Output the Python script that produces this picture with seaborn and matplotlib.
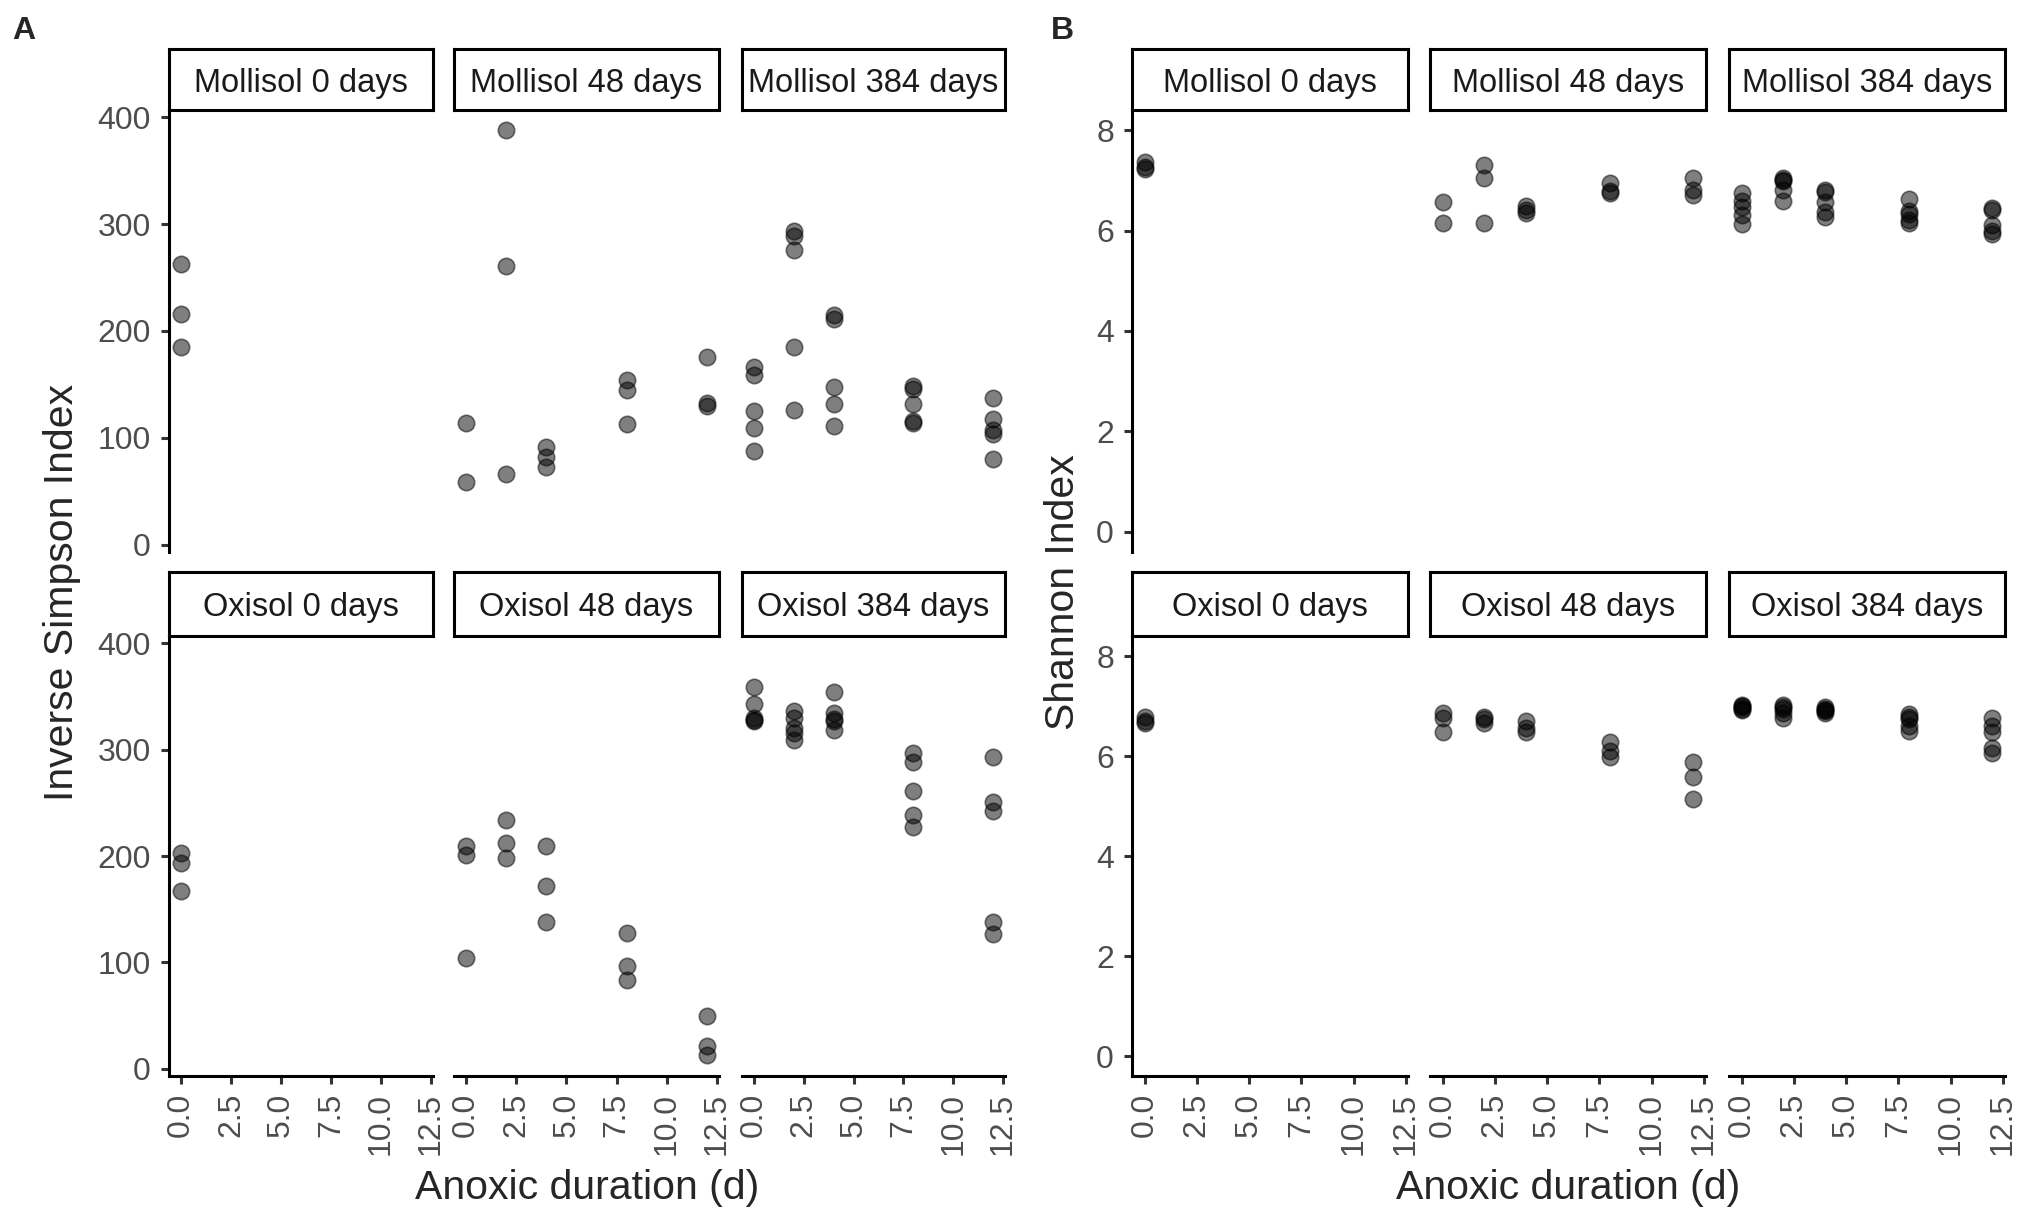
import numpy as np
import pandas as pd
import matplotlib
matplotlib.use('Agg')
import matplotlib.pyplot as plt
import seaborn as sns

sns.set_style('white')
plt.rcParams['font.family'] = ['Liberation Sans', 'DejaVu Sans']

# %% data

facets = ["Mollisol 0 days", "Mollisol 48 days", "Mollisol 384 days",
          "Oxisol 0 days", "Oxisol 48 days", "Oxisol 384 days"]
days = [0, 2, 4, 8, 12]
x_ticks = [0, 2.5, 5, 7.5, 10, 12.5]
x_ticklabels = ["0.0", "2.5", "5.0", "7.5", "10.0", "12.5"]

# Inverse Simpson, one list per anoxic duration (0, 2, 4, 8, 12 d)
inv_mol0 = [[263, 216, 185]]
inv_mol48 = [[114, 59], [388, 261, 66], [91, 82, 73], [154, 145, 113], [176, 133, 130]]
inv_mol384 = [[166, 159, 125, 109, 88], [294, 289, 276, 185, 126],
              [215, 211, 148, 132, 111], [149, 146, 132, 116, 114],
              [137, 118, 107, 104, 80]]
inv_oxi0 = [[203, 193, 167]]
inv_oxi48 = [[209, 201, 104], [234, 212, 198], [209, 172, 138], [128, 97, 83], [50, 21, 13]]
inv_oxi384 = [[359, 343, 330, 328, 327], [336, 330, 320, 316, 309],
              [354, 334, 329, 327, 318], [297, 288, 261, 239, 227],
              [293, 251, 242, 138, 127]]

# Shannon
sha_mol0 = [[7.37, 7.27, 7.22]]
sha_mol48 = [[6.57, 6.16], [7.30, 7.05, 6.16], [6.48, 6.41, 6.35],
             [6.94, 6.78, 6.74], [7.04, 6.81, 6.70]]
sha_mol384 = [[6.74, 6.59, 6.47, 6.30, 6.13], [7.04, 7.01, 6.99, 6.81, 6.59],
              [6.81, 6.76, 6.56, 6.36, 6.27], [6.63, 6.39, 6.33, 6.20, 6.15],
              [6.44, 6.41, 6.11, 6.00, 5.93]]
sha_oxi0 = [[6.78, 6.71, 6.66]]
sha_oxi48 = [[6.86, 6.76, 6.49], [6.78, 6.74, 6.67], [6.70, 6.57, 6.49],
             [6.28, 6.11, 5.99], [5.89, 5.58, 5.15]]
sha_oxi384 = [[7.03, 7.00, 6.98, 6.95, 6.92], [7.03, 6.99, 6.95, 6.86, 6.76],
              [6.99, 6.95, 6.92, 6.90, 6.86], [6.84, 6.78, 6.74, 6.61, 6.51],
              [6.76, 6.61, 6.49, 6.16, 6.06]]

inv_sets = [inv_mol0, inv_mol48, inv_mol384, inv_oxi0, inv_oxi48, inv_oxi384]
sha_sets = [sha_mol0, sha_mol48, sha_mol384, sha_oxi0, sha_oxi48, sha_oxi384]


def to_long(sets):
    rows = []
    for f, groups in zip(facets, sets):
        for d, vals in zip(days, groups):
            for v in vals:
                rows.append({'facet': f, 'day': d, 'value': v})
    return pd.DataFrame(rows)


df_inv = to_long(inv_sets)
df_sha = to_long(sha_sets)

# %% layout (pixels)
W, H = 2033, 1212
fig = plt.figure(figsize=(W / 100, H / 100), dpi=100)


def box(l, t, r, b):
    return [l / W, 1 - b / H, (r - l) / W, (b - t) / H]


cols_A = [(169, 433), (454, 719), (742, 1005)]
cols_B = [(1132, 1408), (1430, 1706), (1729, 2005)]
rows = [((49, 110), (110, 552)), ((572, 636), (636, 1076))]
lw = 2.2
tick_col = '#4d4d4d'


def draw_panel(df, cols, ylim, yticks):
    for i, f in enumerate(facets):
        r, c = divmod(i, 3)
        (st, sb), (pt, pb) = rows[r]
        l, rr = cols[c]
        ax = fig.add_axes(box(l, pt, rr, pb))
        sub = df[df['facet'] == f]
        sns.scatterplot(data=sub, x='day', y='value', ax=ax, color='black',
                        alpha=0.5, s=140, edgecolor='black', linewidth=1.2,
                        legend=False)
        ax.set_xlim(-0.6, 12.6)
        ax.set_ylim(*ylim)
        ax.set_xlabel('')
        ax.set_ylabel('')
        for sp in ['top', 'right']:
            ax.spines[sp].set_visible(False)
        ax.spines['left'].set_visible(c == 0)
        ax.spines['bottom'].set_visible(r == 1)
        ax.spines['left'].set_linewidth(lw)
        ax.spines['bottom'].set_linewidth(lw)
        ax.spines['left'].set_color('black')
        ax.spines['bottom'].set_color('black')
        ax.set_yticks(yticks)
        ax.set_xticks(x_ticks)
        ax.set_xticklabels(x_ticklabels)
        ax.tick_params(axis='y', left=(c == 0), labelleft=(c == 0), length=6,
                       width=lw, color='#333333', labelsize=23, labelcolor=tick_col, pad=7)
        ax.tick_params(axis='x', bottom=(r == 1), labelbottom=(r == 1), length=6,
                       width=lw, color='#333333', labelsize=23, labelcolor=tick_col,
                       pad=6, labelrotation=90)
        ax.patch.set_alpha(0)

        # facet strip
        sax = fig.add_axes(box(l, st, rr, sb))
        sax.set_xticks([])
        sax.set_yticks([])
        for sp in sax.spines.values():
            sp.set_visible(True)
            sp.set_linewidth(lw)
            sp.set_color('black')
        sax.text(0.5, 0.44, f, ha='center', va='center', fontsize=23.5,
                 color='#1a1a1a', transform=sax.transAxes)


draw_panel(df_inv, cols_A, (-6.8, 406.8), [0, 100, 200, 300, 400])
draw_panel(df_sha, cols_B, (-0.4, 8.4), [0, 2, 4, 6, 8])

fig.text(62 / W, 1 - 592 / H, 'Inverse Simpson Index', rotation=90,
         fontsize=29.5, ha='center', va='center')
fig.text(1063 / W, 1 - 592 / H, 'Shannon Index', rotation=90,
         fontsize=29.5, ha='center', va='center')
fig.text(587 / W, 1 - 1188 / H, 'Anoxic duration (d)', fontsize=29.5,
         ha='center', va='center')
fig.text(1568 / W, 1 - 1188 / H, 'Anoxic duration (d)', fontsize=29.5,
         ha='center', va='center')
fig.text(12 / W, 1 - 31 / H, 'A', fontsize=23, weight='bold', va='center')
fig.text(1051 / W, 1 - 31 / H, 'B', fontsize=23, weight='bold', va='center')

fig.savefig('out.png', dpi=100)
